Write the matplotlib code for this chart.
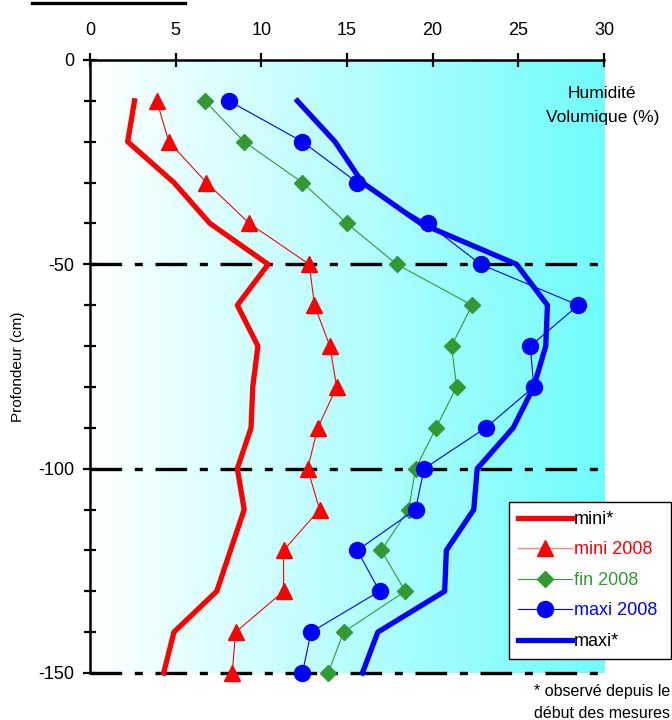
import numpy as np
import matplotlib
matplotlib.use("Agg")
import matplotlib.pyplot as plt
from matplotlib.lines import Line2D

plt.rcParams['font.family'] = ['Liberation Sans', 'DejaVu Sans']
plt.rcParams['axes.unicode_minus'] = False

# profondeurs (cm)
prof = [-10, -20, -30, -40, -50, -60, -70, -80, -90, -100, -110, -120, -130, -140, -150]

# humidite volumique (%)
mini_obs = [2.6, 2.2, 4.9, 7.0, 10.4, 8.6, 9.8, 9.5, 9.4, 8.6, 9.0, 8.2, 7.4, 4.9, 4.3]
mini_2008 = [3.9, 4.6, 6.8, 9.3, 12.8, 13.1, 14.0, 14.4, 13.3, 12.7, 13.4, 11.3, 11.3, 8.5, 8.3]
fin_2008 = [6.7, 9.0, 12.4, 15.0, 17.9, 22.3, 21.1, 21.4, 20.2, 19.0, 18.6, 17.0, 18.4, 14.8, 13.9]
maxi_2008 = [8.1, 12.4, 15.6, 19.7, 22.8, 28.5, 25.7, 25.9, 23.1, 19.5, 19.0, 15.6, 16.9, 12.9, 12.4]
maxi_obs = [12.1, 14.3, 15.9, 19.3, 24.9, 26.7, 26.6, 25.9, 24.7, 22.6, 22.4, 20.8, 20.7, 16.8, 15.9]

horizons = [-50, -100, -150]

fig = plt.figure(figsize=(6.72, 7.2), dpi=100)
ax = fig.add_axes([0.1339, 0.0653, 0.7649, 0.8514])

# fond en degrade blanc -> cyan
grad = np.linspace(0, 1, 256).reshape(1, -1)
cmap = matplotlib.colors.LinearSegmentedColormap.from_list("bg", ["#ffffff", "#70fcfc"])
ax.imshow(grad, extent=[0, 30, -150, 0], aspect="auto", cmap=cmap, zorder=0)

for h in horizons:
    ax.plot([0, 30], [h, h], color="black", lw=2.4,
            dashes=(9.5, 3.8, 2.4, 3.8), zorder=2, clip_on=False)

ax.plot(mini_obs, prof, color="#ff0000", lw=3.8, zorder=3, clip_on=False)
ax.plot(mini_2008, prof, color="#ff0000", lw=0.8, marker="^", ms=11,
        zorder=4, clip_on=False)
ax.plot(fin_2008, prof, color="#339933", lw=0.8, marker="D", ms=8.5,
        zorder=4, clip_on=False)
ax.plot(maxi_2008, prof, color="#0000ff", lw=0.8, marker="o", ms=11.5,
        zorder=4, clip_on=False)
ax.plot(maxi_obs, prof, color="#0000ff", lw=3.8, zorder=3, clip_on=False)

ax.set_xlim(0, 30)
ax.set_ylim(-150, 0)
ax.xaxis.tick_top()
ax.set_xticks([0, 5, 10, 15, 20, 25, 30])
ax.set_yticks([0, -50, -100, -150])
ax.set_yticks(np.arange(-150, 1, 10), minor=True)
ax.tick_params(axis="both", direction="inout", length=10, width=1.6,
               labelsize=13, pad=6)
ax.tick_params(axis="y", which="minor", direction="inout", length=8, width=1.6)
ax.tick_params(axis="x", pad=10)
for s in ["right", "bottom"]:
    ax.spines[s].set_visible(False)
for s in ["left", "top"]:
    ax.spines[s].set_linewidth(1.8)

ax.set_ylabel("Profondeur (cm)", fontsize=11, labelpad=10)
ax.text(29.9, -11.2, "Humidité\nVolumique (%)", ha="center", va="center",
        fontsize=12.5, linespacing=1.75, zorder=5, clip_on=False)

handles = [
    Line2D([], [], color="#ff0000", lw=3.8),
    Line2D([], [], color="#ff8080", lw=1, marker="^", ms=11, mfc="#ff0000", mec="#ff0000"),
    Line2D([], [], color="#339933", lw=0.8, marker="D", ms=8.5),
    Line2D([], [], color="#0000ff", lw=0.8, marker="o", ms=11.5),
    Line2D([], [], color="#0000ff", lw=3.8),
]
labels = ["mini*", "mini 2008", "fin 2008", "maxi 2008", "maxi*"]
leg = fig.legend(handles, labels, loc="lower left",
                 bbox_to_anchor=(0.757, 0.0847, 0.242, 0.246), mode="expand",
                 fontsize=13, frameon=True, fancybox=False, handlelength=3.0,
                 handletextpad=0.1, borderpad=0.5, labelspacing=0.75,
                 borderaxespad=0)
leg.get_frame().set_edgecolor("black")
leg.get_frame().set_linewidth(1.0)
leg.get_frame().set_alpha(1)
for t, c in zip(leg.get_texts(), ["black", "#ff0000", "#339933", "#0000ff", "black"]):
    t.set_color(c)

fig.text(0.997, 0.024, "* observé depuis le\ndébut des mesures", ha="right",
         va="center", fontsize=11.5, linespacing=1.6)

# trait du titre coupe en haut
fig.add_artist(Line2D([0.0476, 0.275], [0.9958, 0.9958], color="black", lw=2.4))

fig.savefig("out.png", dpi=100)
